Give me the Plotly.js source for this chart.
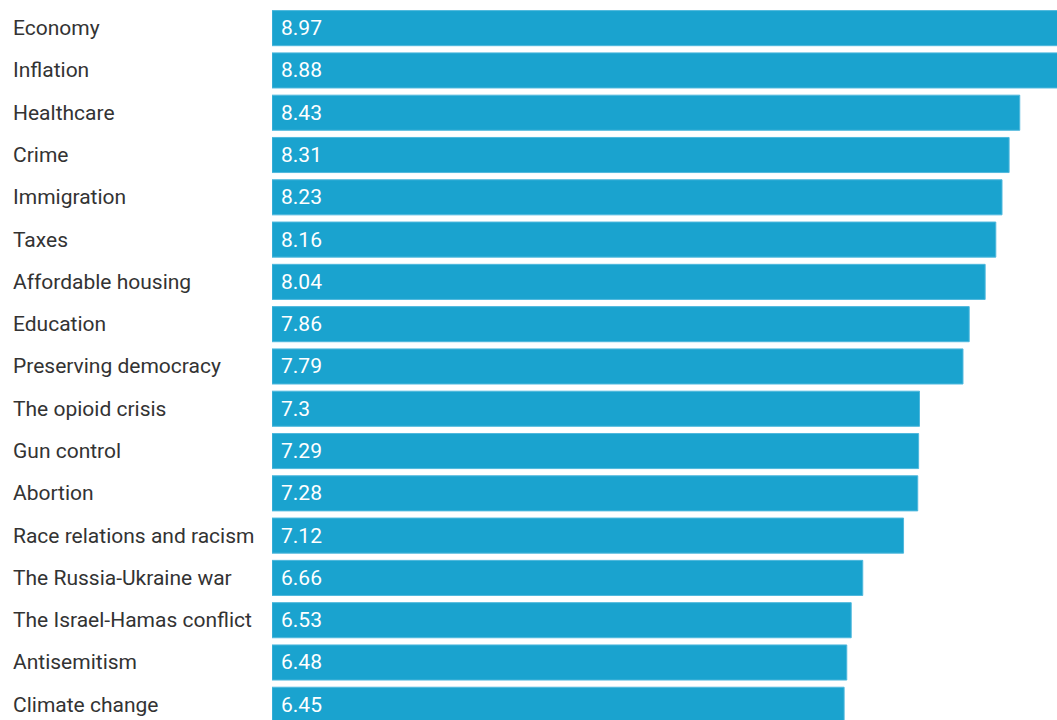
<!DOCTYPE html>
<html>
<head>
<meta charset="utf-8">
<script src="https://cdn.plot.ly/plotly-3.0.1.min.js"></script>
<style>html,body{margin:0;padding:0;background:#fff;overflow:hidden}#chart{width:1057px;height:720px}</style>
</head>
<body>
<div id="chart"></div>
<script>
const categories = ["Economy","Inflation","Healthcare","Crime","Immigration","Taxes","Affordable housing","Education","Preserving democracy","The opioid crisis","Gun control","Abortion","Race relations and racism","The Russia-Ukraine war","The Israel-Hamas conflict","Antisemitism","Climate change"];
const values = [8.97,8.88,8.43,8.31,8.23,8.16,8.04,7.86,7.79,7.3,7.29,7.28,7.12,6.66,6.53,6.48,6.45];

const barColor = "#1aa3cf";
const font = "Roboto, 'Noto Sans', sans-serif";

const trace = {
  type: "bar",
  orientation: "h",
  x: values,
  y: categories,
  marker: {color: barColor, line: {color: "#4fb8dd", width: 1}},
  hoverinfo: "none",
  cliponaxis: true
};

const annotations = [];
categories.forEach((c, i) => {
  annotations.push({
    xref: "paper", yref: "y", x: -0.3325, y: c, xanchor: "left", yanchor: "middle",
    text: c, showarrow: false, font: {family: font, size: 21, color: "#333333"}
  });
  annotations.push({
    xref: "x", yref: "y", x: 0, y: c, xanchor: "left", yanchor: "middle", xshift: 7,
    text: String(values[i]), showarrow: false, font: {family: font, size: 21, color: "#ffffff"}
  });
});

const layout = {
  width: 1057, height: 720,
  margin: {l: 272, r: 0, t: 7, b: 0, pad: 0},
  paper_bgcolor: "#ffffff", plot_bgcolor: "#ffffff",
  bargap: 0.17,
  showlegend: false,
  xaxis: {range: [0, 8.85], visible: false, fixedrange: true},
  yaxis: {type: "category", categoryorder: "array", categoryarray: categories,
          range: [16.36, -0.5], visible: false, fixedrange: true},
  annotations: annotations
};

Plotly.newPlot("chart", [trace], layout, {displayModeBar: false, staticPlot: true});
</script>
</body>
</html>
